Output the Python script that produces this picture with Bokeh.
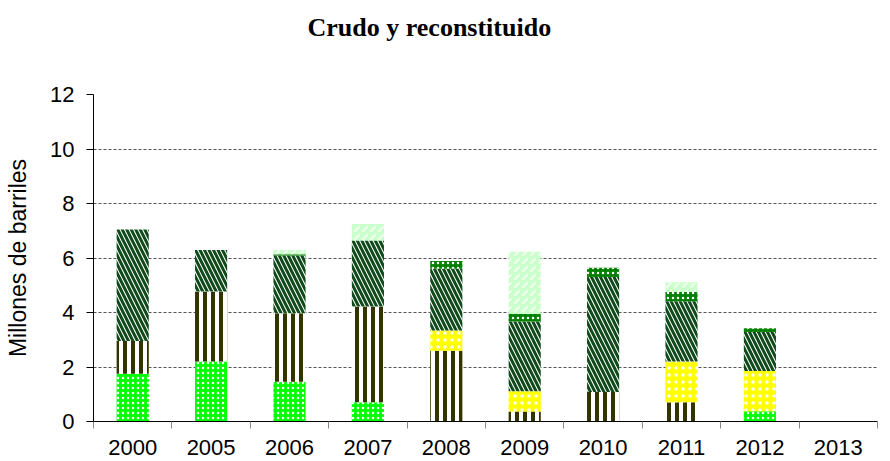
from bokeh.plotting import figure
from bokeh.models import FixedTicker, Title, ColumnDataSource
from bokeh.embed import file_html
from bokeh.resources import INLINE

years = ["2000", "2005", "2006", "2007", "2008", "2009", "2010", "2011", "2012", "2013"]
verde = [1.75, 2.2, 1.46, 0.71, 0.0, 0.0, 0.0, 0.0, 0.38, 0.0]
rayas = [1.2, 2.57, 2.51, 3.51, 2.6, 0.37, 1.08, 0.71, 0.0, 0.0]
amarillo = [0.0, 0.0, 0.0, 0.0, 0.74, 0.74, 0.0, 1.49, 1.47, 0.0]
diagonal = [4.1, 1.52, 2.12, 2.42, 2.27, 2.56, 4.22, 2.21, 1.43, 0.0]
cuadros = [0.0, 0.0, 0.05, 0.0, 0.28, 0.28, 0.34, 0.34, 0.14, 0.0]
claro = [0.0, 0.0, 0.15, 0.61, 0.0, 2.28, 0.0, 0.36, 0.0, 0.0]

series = [
    (verde, dict(fill_color="#00FF00", hatch_pattern="dot", hatch_color="white", hatch_scale=5, hatch_weight=1.5)),
    (rayas, dict(fill_color="white", hatch_pattern="vertical_line", hatch_color="#333300", hatch_scale=8, hatch_weight=4)),
    (amarillo, dict(fill_color="#FFFF00", hatch_pattern="dot", hatch_color="white", hatch_scale=7, hatch_weight=1)),
    (diagonal, dict(fill_color="white", hatch_pattern="left_diagonal_line", hatch_color="#0F4A1A", hatch_scale=9, hatch_weight=3)),
    (cuadros, dict(fill_color="#008000", hatch_pattern="dot", hatch_color="white", hatch_scale=5, hatch_weight=2)),
    (claro, dict(fill_color="#CCFFCC", hatch_pattern="right_diagonal_dash", hatch_color="white", hatch_scale=8, hatch_weight=1.5)),
]

n = len(years)
xs = [i + 0.5 for i in range(n)]

p = figure(width=882, height=459, x_range=(0, n), y_range=(0, 12),
           output_backend="svg", toolbar_location=None,
           min_border_left=93, min_border_right=5, min_border_top=94, min_border_bottom=38)

p.title.text = ""
spacer = Title(text=" ", text_font_size="10px", standoff=40)
p.add_layout(spacer, "above")
p.add_layout(Title(text="Crudo y reconstituido", align="left", offset=214, text_font="Liberation Serif",
                   text_font_size="26px", text_font_style="bold", text_color="black",
                   vertical_align="bottom", standoff=0), "above")
p.outline_line_color = None

bottom = [0.0] * n
for vals, style in series:
    top = [b + v for b, v in zip(bottom, vals)]
    src = ColumnDataSource(dict(x=xs, bottom=bottom, top=top))
    p.vbar(x="x", bottom="bottom", top="top", width=0.41, source=src, line_color=None, **style)
    bottom = top

# grid
p.xgrid.grid_line_color = None
p.ygrid.grid_line_color = "#555555"
p.ygrid.grid_line_dash = "3 2"
p.ygrid.grid_line_width = 1

# y axis
p.yaxis.ticker = FixedTicker(ticks=[0, 2, 4, 6, 8, 10, 12])
p.yaxis.minor_tick_line_color = None
p.yaxis.major_tick_out = 7
p.yaxis.major_tick_in = 0
p.yaxis.major_label_text_font = "Liberation Sans"
p.yaxis.major_label_text_font_size = "22px"
p.yaxis.major_label_text_color = "black"
p.yaxis.major_label_standoff = 12
p.yaxis.axis_label = "Millones de barriles"
p.yaxis.axis_label_text_font = "Liberation Sans"
p.yaxis.axis_label_text_font_size = "23px"
p.yaxis.axis_label_text_font_style = "normal"
p.yaxis.axis_label_text_color = "black"
p.yaxis.axis_label_standoff = 16
p.yaxis.axis_line_color = "black"

# x axis
p.xaxis.ticker = FixedTicker(ticks=xs, minor_ticks=list(range(n + 1)))
p.xaxis.major_label_overrides = {x: y for x, y in zip(xs, years)}
p.xaxis.major_tick_line_color = None
p.xaxis.major_tick_out = 0
p.xaxis.major_tick_in = 0
p.xaxis.minor_tick_line_color = "#888888"
p.xaxis.minor_tick_out = 7
p.xaxis.minor_tick_in = 0
p.xaxis.major_label_text_font = "Liberation Sans"
p.xaxis.major_label_text_font_size = "22px"
p.xaxis.major_label_text_color = "black"
p.xaxis.major_label_standoff = 11
p.xaxis.axis_line_color = "black"

open("out.html", "w").write(file_html(p, INLINE))
